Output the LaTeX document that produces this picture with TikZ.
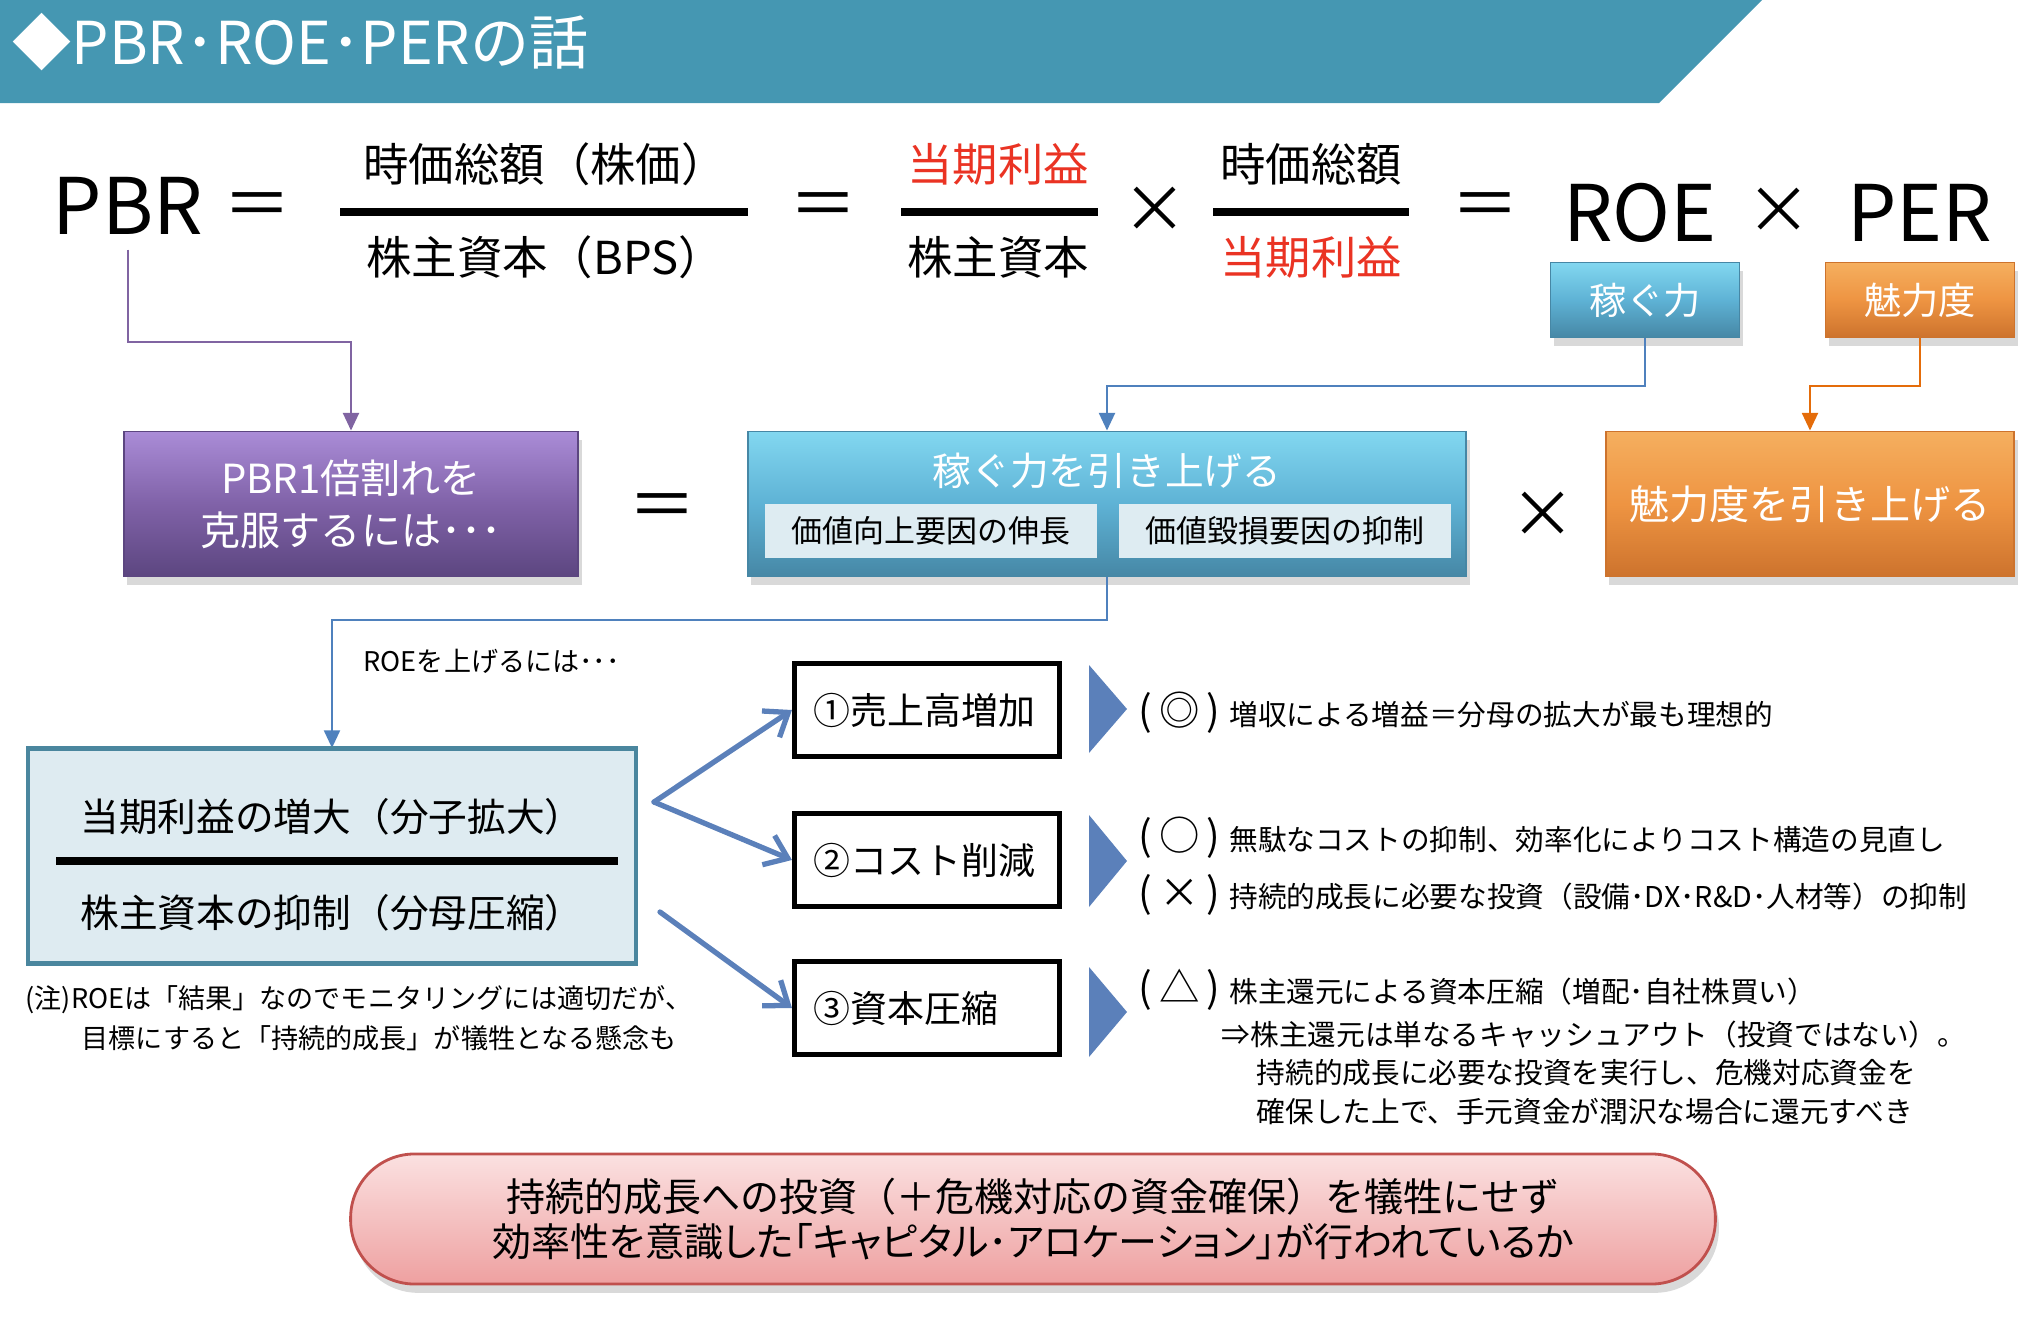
\documentclass[tikz,border=0pt]{standalone}
\usepackage{fontspec}
\setmainfont{Noto Sans CJK JP}
\newfontfamily\paltfont{Noto Sans CJK JP}[RawFeature=+palt]
\usepackage{tikz}
\usetikzlibrary{arrows.meta,shadows}
\definecolor{headblue}{RGB}{69,151,178}
\definecolor{profitred}{RGB}{234,51,35}
\definecolor{pbrtop}{RGB}{170,140,215}
\definecolor{pbrmain}{RGB}{128,98,168}
\definecolor{pbrbot}{RGB}{92,70,128}
\definecolor{earntop}{RGB}{130,215,240}
\definecolor{earnmain}{RGB}{94,178,213}
\definecolor{earnbot}{RGB}{70,135,165}
\definecolor{charmtop}{RGB}{245,175,95}
\definecolor{charmmain}{RGB}{238,148,66}
\definecolor{charmbot}{RGB}{205,115,45}
\definecolor{factorfill}{RGB}{222,236,242}
\definecolor{roefill}{RGB}{222,235,241}
\definecolor{roeedge}{RGB}{74,134,158}
\definecolor{linkpurple}{RGB}{128,100,162}
\definecolor{linkblue}{RGB}{79,129,189}
\definecolor{linkorange}{RGB}{228,108,10}
\definecolor{fatblue}{RGB}{91,128,186}
\definecolor{pinktop}{RGB}{251,225,225}
\definecolor{pinkbot}{RGB}{238,160,160}
\definecolor{pinkedge}{RGB}{192,80,77}
\tikzset{
  elbow/.style={-{Triangle[length=5pt,width=4.5pt]},line width=0.7pt},
  fatarrow/.style={-{Straight Barb[length=6pt,width=9pt]},line width=1.5pt,draw=fatblue,line cap=round},
  gloss/.style={drop shadow={shadow xshift=1pt,shadow yshift=-2.5pt,opacity=0.3}},
  fracbar/.style={line width=2.3pt}
}
\newcommand\remmark[1]{{\fontsize{11.5}{12}\selectfont(\hspace{2pt}#1\hspace{2pt})}\hspace{2.5pt}}

\begin{document}
\begin{tikzpicture}[
  x=0.01cm,y=-0.01cm,
  headtitle/.style={
    font=\fontsize{16.8}{18}\selectfont,
    text=white,
    inner sep=0pt
  },
  bigterm/.style={
    font=\fontsize{22.2}{24}\selectfont,
    inner sep=0pt
  },
  fracterm/.style={
    font=\fontsize{12.9}{14}\selectfont,
    inner sep=0pt
  },
  opsign/.style={
    font=\fontsize{19.3}{21}\selectfont,
    inner sep=0pt
  },
  timessign/.style={
    font=\fontsize{18.5}{20}\selectfont,
    inner sep=0pt
  },
  tagbox/.style={
    rectangle,
    minimum width=1.89cm,
    minimum height=0.75cm,
    text=white,
    font=\fontsize{10.6}{12}\selectfont,
    line width=0.5pt,
    gloss
  },
  stagebox/.style={
    rectangle,
    minimum height=1.45cm,
    text=white,
    align=center,
    font=\fontsize{11.4}{14.8}\selectfont,
    line width=0.5pt,
    gloss
  },
  pbrshade/.style={top color=pbrtop,bottom color=pbrbot,middle color=pbrmain,draw=pbrbot},
  earnshade/.style={top color=earntop,bottom color=earnbot,middle color=earnmain,draw=earnbot},
  charmshade/.style={top color=charmtop,bottom color=charmbot,middle color=charmmain,draw=charmbot},
  factorbox/.style={
    rectangle,
    fill=factorfill,
    minimum width=3.32cm,
    minimum height=0.53cm,
    font=\fontsize{8.8}{10}\selectfont
  },
  roeframe/.style={
    rectangle,
    fill=roefill,
    draw=roeedge,
    line width=1.2pt,
    minimum width=6.07cm,
    minimum height=2.15cm
  },
  roeterm/.style={
    font=\fontsize{11}{12}\selectfont,
    inner sep=0pt
  },
  leverbox/.style={
    rectangle,
    draw=black,
    line width=1.4pt,
    fill=white,
    minimum width=2.65cm,
    minimum height=0.93cm,
    text width=2.27cm,
    align=left,
    font=\fontsize{10.5}{12}\selectfont
  },
  remark/.style={
    anchor=west,
    font=\fontsize{8.15}{10}\selectfont,
    inner sep=0pt
  },
  notetext/.style={
    anchor=west,
    font=\fontsize{7.7}{9}\selectfont,
    inner sep=0pt
  },
  capsule/.style={
    rectangle,
    rounded corners=0.64cm,
    top color=pinktop,
    bottom color=pinkbot,
    draw=pinkedge,
    line width=0.8pt,
    minimum width=13.64cm,
    minimum height=1.3cm,
    align=center,
    font=\fontsize{11.1}{12.8}\selectfont,
    gloss
  }
]
\useasboundingbox (0,0) rectangle (2044,1318);

\fill[headblue] (0,0) -- (1762,0) -- (1659,103) -- (0,103) -- cycle;
\node[headtitle,anchor=west] (title) at (12,42) {◆PBR･ROE･PERの話};

\node[bigterm,anchor=base] (pbr) at (128,235) {PBR};
\node[opsign] (eqA) at (257,211) {＝};
\node[fracterm] (numA) at (545,164) {時価総額（株価）};
\draw[fracbar] (340,212) -- (748,212);
\node[fracterm] (denA) at (545,257) {株主資本（BPS）};
\node[opsign] (eqB) at (823,211) {＝};
\node[fracterm,text=profitred] (numB) at (998,164) {当期利益};
\draw[fracbar] (901,212) -- (1098,212);
\node[fracterm] (denB) at (998,257) {株主資本};
\node[timessign] (mulA) at (1155,210) {×};
\node[fracterm] (numC) at (1311,164) {時価総額};
\draw[fracbar] (1213,212) -- (1409,212);
\node[fracterm,text=profitred] (denC) at (1311,257) {当期利益};
\node[opsign] (eqC) at (1485,211) {＝};
\node[bigterm,anchor=base] (roe) at (1640,241) {ROE};
\node[timessign] (mulB) at (1779,211) {×};
\node[bigterm,anchor=base] (per) at (1920,241) {PER};

\node[tagbox,earnshade] (earn) at (1645,300) {稼ぐ力};
\node[tagbox,charmshade] (charm) at (1920,300) {魅力度};

\node[stagebox,pbrshade,minimum width=4.54cm] (pbrbox) at (351,504)
  {PBR1倍割れを\\克服するには･･･};
\node[opsign] (eqD) at (662,512) {＝};
\node[stagebox,earnshade,minimum width=7.18cm] (raise) at (1107,504) {};
\node[font=\fontsize{11}{12}\selectfont,text=white,inner sep=0pt] (raisetitle) at (1107,471)
  {稼ぐ力を引き上げる};
\node[factorbox] (valueup) at (931,531) {価値向上要因の伸長};
\node[factorbox] (valuedown) at (1285,531) {価値毀損要因の抑制};
\node[timessign] (mulC) at (1543,515) {×};
\node[stagebox,charmshade,minimum width=4.08cm] (charmup) at (1810,504)
  {魅力度を引き上げる};

\coordinate (pbrbend) at (240,342);
\coordinate (earnbend) at (1400,386);
\coordinate (charmbend) at (1860,386);
\coordinate (raisebend) at (700,620);
\draw[elbow,draw=linkpurple,shorten <=0.14cm] (pbr.south) |- (pbrbend) -| (pbrbox.north);
\draw[elbow,draw=linkblue] (earn.south) |- (earnbend) -| (raise.north);
\draw[elbow,draw=linkorange] (charm.south) |- (charmbend) -| (charmup.north);
\draw[elbow,draw=linkblue] (raise.south) |- (raisebend) -| (332,748);

\node[notetext] (roehint) at (363,661) {ROEを上げるには･･･};

\node[roeframe] (roebox) at (332,856) {};
\node[roeterm] (roenum) at (332,817) {当期利益の増大（分子拡大）};
\draw[fracbar] (56,861) -- (618,861);
\node[roeterm] (roeden) at (332,913) {株主資本の抑制（分母圧縮）};

\node[notetext] (noteA) at (25,1000) {(注)ROEは「結果」なのでモニタリングには適切だが、};
\node[notetext] (noteB) at (81,1038) {目標にすると「持続的成長」が犠牲となる懸念も};

\node[leverbox] (sales) at (927,710) {①売上高増加};
\node[leverbox] (cost) at (927,860) {②コスト削減};
\node[leverbox] (capital) at (927,1008) {③資本圧縮};

\coordinate (forkA) at (654,802);
\coordinate (forkB) at (660,912);
\draw[fatarrow] (forkA) -- (sales.west);
\draw[fatarrow] (forkA) -- (cost.west);
\draw[fatarrow] (forkB) -- (capital.west);

\fill[fatblue] (1089,665) -- (1127,709) -- (1089,753) -- cycle;
\fill[fatblue] (1089,815) -- (1127,861) -- (1089,907) -- cycle;
\fill[fatblue] (1089,967) -- (1127,1012) -- (1089,1057) -- cycle;

\node[remark] (remA) at (1138,713) {\remmark{◎}増収による増益＝分母の拡大が最も理想的};
\node[remark] (remB) at (1138,838) {\remmark{○}無駄なコストの抑制、効率化によりコスト構造の見直し};
\node[remark] (remC) at (1138,895) {\remmark{×}持続的成長に必要な投資（設備･DX･R\&D･人材等）の抑制};
\node[remark] (remD) at (1138,990) {\remmark{△}株主還元による資本圧縮（増配･自社株買い）};
\node[remark] (remE) at (1221,1035) {⇒株主還元は単なるキャッシュアウト（投資ではない）。};
\node[remark] (remF) at (1256,1073) {持続的成長に必要な投資を実行し、危機対応資金を};
\node[remark] (remG) at (1256,1112) {確保した上で、手元資金が潤沢な場合に還元すべき};

\node[capsule] (verdict) at (1033,1219)
  {持続的成長への投資（＋危機対応の資金確保）を犠牲にせず\\{\paltfont 効率性を意識した「キャピタル･アロケーション」が行われているか}};

\end{tikzpicture}
\end{document}
